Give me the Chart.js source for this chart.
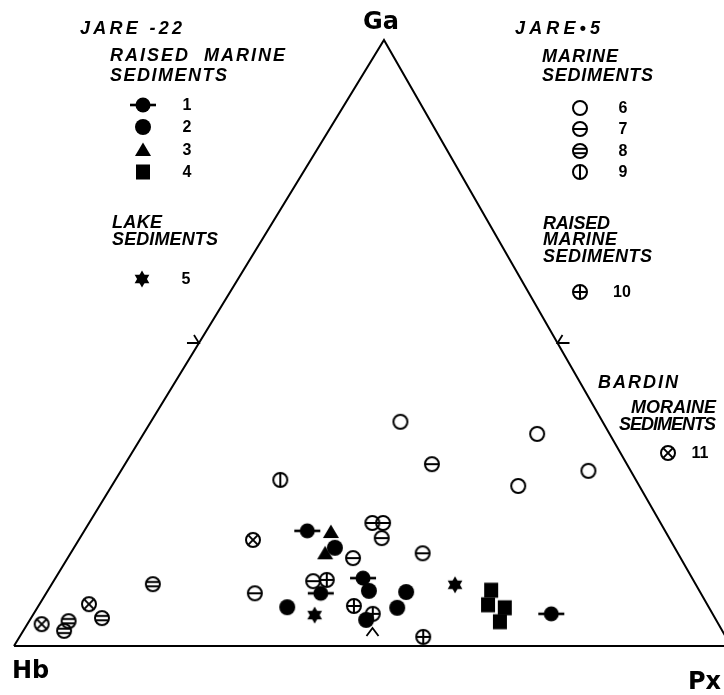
<!DOCTYPE html>
<html>
<head>
<meta charset="utf-8">
<script src="https://cdn.jsdelivr.net/npm/chart.js@4"></script>
<style>
  html, body { margin: 0; padding: 0; background: #fff; }
  #wrap { width: 724px; height: 695px; position: relative; }
</style>
</head>
<body>
<div id="wrap"><canvas id="c"></canvas></div>
<script>
// Heavy-mineral compositions, each sample given as [Hb, Px, Ga] in percent.
// JARE-22, raised marine sediments
const jare22Type1 = [[49.9, 31.1, 19.0], [45.9, 42.9, 11.2], [53.0, 38.3, 8.7], [22.5, 72.2, 5.3]];
const jare22Type2 = [[47.4, 36.4, 16.2], [58.8, 34.8, 6.4], [46.1, 44.8, 9.1], [48.8, 46.9, 4.3], [41.0, 50.1, 8.9], [43.5, 50.2, 6.3]];
const jare22Type3 = [[46.7, 34.5, 18.8], [49.2, 35.5, 15.3]];
const jare22Type4 = [[29.0, 61.8, 9.2], [30.6, 62.6, 6.8], [28.5, 65.2, 6.3], [30.3, 65.7, 4.0]];
// JARE-22, lake sediments
const jare22Lake5 = [[55.6, 39.3, 5.1], [33.6, 56.3, 10.1]];
// JARE-5, marine sediments
const jare5Type6 = [[28.2, 34.8, 37.0], [10.1, 54.9, 35.0], [16.9, 56.7, 26.4], [5.9, 65.2, 28.9]];
const jare5Type7 = [[27.2, 42.8, 30.0], [40.2, 39.5, 20.3], [38.7, 41.0, 20.3], [40.1, 42.1, 17.8], [45.7, 39.8, 14.5], [35.6, 49.1, 15.3], [62.2, 29.1, 8.7], [53.1, 36.2, 10.7]];
const jare5Type8 = [[75.7, 14.1, 10.2], [90.4, 5.5, 4.1], [91.8, 5.7, 2.5], [85.5, 9.9, 4.6]];
const jare5Type9 = [[49.6, 23.0, 27.4]];
// JARE-5, raised marine sediments
const jare5Type10 = [[51.1, 38.0, 10.9], [49.4, 44.0, 6.6], [47.4, 47.3, 5.3], [42.2, 56.3, 1.5]];
// Bardin moraine sediments
const bardinType11 = [[58.2, 24.3, 17.5], [94.4, 2.0, 3.6], [86.2, 6.9, 6.9]];

// Apex labels and triangle corners
const cornerLabels = ['Ga', 'Hb', 'Px'];
const corners = [[100, 0, 0], [0, 100, 0], [0, 0, 100], [100, 0, 0]];
// 50 % marks on each side
const halfMarks = { left: [50, 0, 50], right: [0, 50, 50], base: [50, 50, 0] };

// Horizontal position of the Ga apex relative to the Hb–Px base
const APEX = 0.516;
function toXY(c) { return { x: c[1] + APEX * c[2], y: c[2] }; }

// ---- marker glyphs ----
function makeMarker(kind) {
  const cv = document.createElement('canvas');
  cv.width = 30; cv.height = 22;
  const g = cv.getContext('2d');
  g.translate(15, 11);
  g.fillStyle = '#000'; g.strokeStyle = '#000'; g.lineWidth = 2;
  const R = 7;
  const ring = () => { g.beginPath(); g.arc(0, 0, R, 0, Math.PI * 2); g.stroke(); };
  const line = (x1, y1, x2, y2) => { g.beginPath(); g.moveTo(x1, y1); g.lineTo(x2, y2); g.stroke(); };
  switch (kind) {
    case 1:
      g.beginPath(); g.arc(0, 0, 7.5, 0, Math.PI * 2); g.fill();
      g.fillRect(-13, -1.3, 26, 2.6);
      break;
    case 2:
      g.beginPath(); g.arc(0, 0, 8, 0, Math.PI * 2); g.fill();
      break;
    case 3:
      g.beginPath(); g.moveTo(0, -7.5); g.lineTo(8, 6); g.lineTo(-8, 6); g.closePath(); g.fill();
      break;
    case 4:
      g.fillRect(-7, -7.5, 14, 15);
      break;
    case 5: {
      const r = 8.5;
      g.beginPath();
      for (let k = 0; k < 3; k++) {
        const a = -Math.PI / 2 + k * 2 * Math.PI / 3;
        k ? g.lineTo(r * Math.cos(a), r * Math.sin(a)) : g.moveTo(r * Math.cos(a), r * Math.sin(a));
      }
      g.closePath(); g.fill();
      g.beginPath();
      for (let k = 0; k < 3; k++) {
        const a = Math.PI / 2 + k * 2 * Math.PI / 3;
        k ? g.lineTo(r * Math.cos(a), r * Math.sin(a)) : g.moveTo(r * Math.cos(a), r * Math.sin(a));
      }
      g.closePath(); g.fill();
      break;
    }
    case 6: ring(); break;
    case 7: ring(); line(-R, 0, R, 0); break;
    case 8: ring(); line(-R + 0.5, -2.2, R - 0.5, -2.2); line(-R + 0.5, 2.2, R - 0.5, 2.2); break;
    case 9: ring(); line(0, -R, 0, R); break;
    case 10: ring(); line(-R, 0, R, 0); line(0, -R, 0, R); break;
    case 11: ring(); line(-4.6, -4.6, 4.6, 4.6); line(4.6, -4.6, -4.6, 4.6); break;
  }
  return cv;
}
const markers = {};
for (let k = 1; k <= 11; k++) markers[k] = makeMarker(k);

const series = [
  [jare22Type1, 1], [jare22Type2, 2], [jare22Type3, 3], [jare22Type4, 4], [jare22Lake5, 5],
  [jare5Type6, 6], [jare5Type7, 7], [jare5Type8, 8], [jare5Type9, 9], [jare5Type10, 10], [bardinType11, 11]
];

const datasets = series.map(([rows, k]) => ({
  type: 'scatter',
  label: String(k),
  data: rows.map(toXY),
  pointStyle: markers[k],
  pointRadius: 8,
  showLine: false
}));
datasets.push({
  type: 'line',
  label: 'frame',
  data: corners.map(toXY),
  borderColor: '#000',
  borderWidth: 2,
  pointRadius: 0,
  fill: false,
  tension: 0
});

// ---- text and side marks ----
function fitText(ctx, text, x, cy, w, font) {
  ctx.font = font;
  ctx.letterSpacing = '0px';
  const nat = ctx.measureText(text).width;
  const ls = text.length > 1 ? (w - nat) / (text.length - 1) : 0;
  ctx.letterSpacing = ls.toFixed(2) + 'px';
  ctx.textAlign = 'left';
  ctx.textBaseline = 'middle';
  ctx.fillText(text, x, cy);
  ctx.letterSpacing = '0px';
}

const ITAL = "italic bold 18px 'Liberation Sans'";
const NUM = "bold 16px 'Liberation Sans'";
const CORNER = "bold 24px 'DejaVu Sans'";

const legendBlocks = [
  { heads: [['JARE -22', 80, 29, 102], ['RAISED  MARINE', 110, 56, 175], ['SEDIMENTS', 110, 76, 117]],
    rows: [[1, 143, 105, 187], [2, 143, 127, 187], [3, 143, 150, 187], [4, 143, 172, 187]] },
  { heads: [['LAKE', 112, 223, 50], ['SEDIMENTS', 112, 240, 106]],
    rows: [[5, 142, 279, 186]] },
  { heads: [['JARE\u20225', 515, 29, 85], ['MARINE', 542, 57, 76], ['SEDIMENTS', 542, 76, 111]],
    rows: [[6, 580, 108, 623], [7, 580, 129, 623], [8, 580, 151, 623], [9, 580, 172, 623]] },
  { heads: [['RAISED', 543, 224, 67], ['MARINE', 543, 240, 74], ['SEDIMENTS', 543, 257, 109]],
    rows: [[10, 580, 292, 622]] },
  { heads: [['BARDIN', 598, 383, 80], ['MORAINE', 631, 408, 85], ['SEDIMENTS', 619, 425, 97]],
    rows: [[11, 668, 453, 700]] }
];

const overlay = {
  id: 'overlay',
  afterDatasetsDraw(chart) {
    const ctx = chart.ctx;
    const sx = chart.scales.x, sy = chart.scales.y;
    const px = c => { const p = toXY(c); return [sx.getPixelForValue(p.x), sy.getPixelForValue(p.y)]; };
    ctx.save();
    ctx.fillStyle = '#000';
    ctx.strokeStyle = '#000';
    ctx.lineWidth = 1.8;

    // 50 % marks
    const [lx, ly] = px(halfMarks.left);
    ctx.beginPath(); ctx.moveTo(lx - 12, ly); ctx.lineTo(lx, ly); ctx.lineTo(lx - 5, ly - 8); ctx.stroke();
    const [rx, ry] = px(halfMarks.right);
    ctx.beginPath(); ctx.moveTo(rx + 12, ry); ctx.lineTo(rx, ry); ctx.lineTo(rx + 5, ry - 8); ctx.stroke();
    const [bx, by] = px(halfMarks.base);
    ctx.beginPath(); ctx.moveTo(bx - 6, by - 10); ctx.lineTo(bx, by - 18); ctx.lineTo(bx + 6, by - 10); ctx.stroke();

    // corner labels
    ctx.font = CORNER;
    ctx.textBaseline = 'middle';
    ctx.textAlign = 'center';
    ctx.fillText(cornerLabels[0], 381, 23);
    ctx.textAlign = 'left';
    ctx.fillText(cornerLabels[1], 12, 672);
    ctx.fillText(cornerLabels[2], 688, 683);

    // legend blocks
    legendBlocks.forEach(b => {
      b.heads.forEach(([t, x, y, w]) => fitText(ctx, t, x, y, w, ITAL));
      b.rows.forEach(([k, mx, my, nx]) => {
        const m = markers[k];
        ctx.drawImage(m, mx - m.width / 2, my - m.height / 2);
        ctx.font = NUM;
        ctx.textAlign = 'center';
        ctx.textBaseline = 'middle';
        ctx.fillText(String(k), nx, my + 1);
      });
    });
    ctx.restore();
  }
};

new Chart(document.getElementById('c'), {
  data: { datasets },
  options: {
    responsive: true,
    maintainAspectRatio: false,
    animation: false,
    events: [],
    layout: { padding: 0, autoPadding: false },
    plugins: { legend: { display: false }, tooltip: { enabled: false } },
    scales: {
      x: { type: 'linear', min: -1.95, max: 99.02, display: false },
      y: { type: 'linear', min: -8.09, max: 106.6, display: false }
    }
  },
  plugins: [overlay]
});
</script>
</body>
</html>
